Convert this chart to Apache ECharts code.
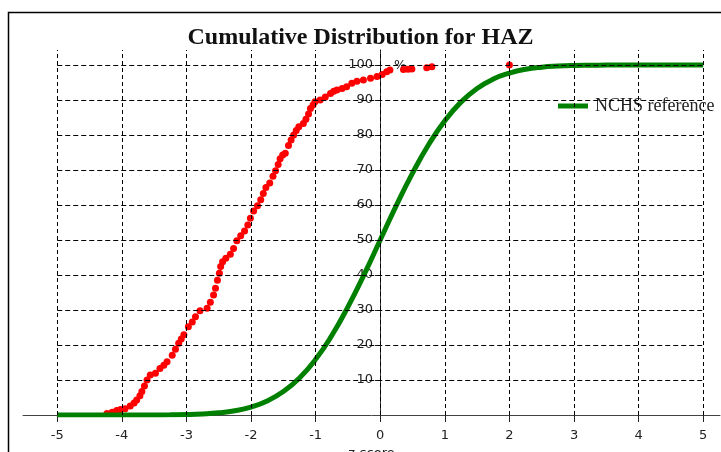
<!DOCTYPE html>
<html>
<head>
<meta charset="utf-8">
<script src="https://cdn.jsdelivr.net/npm/echarts@6/dist/echarts.min.js"></script>
<style>html,body{margin:0;padding:0;background:#fff;}#c{width:721px;height:452px;}</style>
</head>
<body>
<div id="c"></div>
<script>
// Tick labels
var xTicks = [-5, -4, -3, -2, -1, 0, 1, 2, 3, 4, 5];
var yTicks = [10, 20, 30, 40, 50, 60, 70, 80, 90, 100];

// NCHS reference curve (z-score, cumulative %)
var refZ = [-5, -4.75, -4.5, -4.25, -4, -3.75, -3.5, -3.25, -3, -2.75, -2.5, -2.25, -2, -1.75, -1.5, -1.25, -1, -0.75, -0.5, -0.25, 0, 0.25, 0.5, 0.75, 1, 1.25, 1.5, 1.75, 2, 2.25, 2.5, 2.75, 3, 3.25, 3.5, 3.75, 4, 4.25, 4.5, 4.75, 5];
var refPct = [0, 0, 0, 0, 0, 0, 0.02, 0.06, 0.13, 0.3, 0.62, 1.22, 2.28, 4.0, 6.7, 10.6, 15.9, 22.7, 30.9, 40.1, 50, 59.9, 69.1, 77.3, 84.1, 89.4, 93.3, 96.0, 97.7, 98.8, 99.4, 99.7, 99.87, 99.94, 99.98, 99.99, 100, 100, 100, 100, 100];

// Observed sample (z-score, cumulative %)
var obsZ = [-4.23, -4.15, -4.08, -4.02, -3.95, -3.87, -3.81, -3.77, -3.72, -3.69, -3.65, -3.61, -3.56, -3.48, -3.41, -3.35, -3.30, -3.22, -3.17, -3.12, -3.08, -3.04, -2.97, -2.91, -2.86, -2.79, -2.68, -2.63, -2.58, -2.55, -2.52, -2.49, -2.47, -2.44, -2.39, -2.32, -2.27, -2.22, -2.16, -2.10, -2.05, -2.01, -1.96, -1.90, -1.85, -1.81, -1.77, -1.71, -1.66, -1.62, -1.58, -1.55, -1.51, -1.47, -1.42, -1.38, -1.34, -1.30, -1.26, -1.19, -1.15, -1.11, -1.08, -1.04, -1.01, -0.93, -0.85, -0.77, -0.72, -0.67, -0.59, -0.52, -0.44, -0.36, -0.26, -0.15, -0.05, 0.03, 0.10, 0.15, 0.36, 0.43, 0.49, 0.72, 0.80, 2.0];
var obsPct = [0.4, 0.8, 1.3, 1.6, 1.8, 2.6, 3.4, 4.3, 5.5, 6.7, 8.3, 10.0, 11.4, 11.9, 13.3, 14.2, 15.2, 17.1, 18.8, 20.5, 21.7, 22.9, 25.2, 26.6, 28.1, 29.8, 30.5, 32.2, 34.3, 36.2, 38.5, 40.5, 42.4, 43.8, 44.8, 45.9, 47.6, 49.8, 51.2, 52.6, 54.3, 56.2, 58.3, 59.8, 61.5, 63.3, 65.0, 66.3, 68.2, 69.8, 71.6, 73.2, 74.3, 74.8, 77.0, 78.6, 80.0, 81.3, 82.4, 83.3, 84.5, 86.0, 87.6, 88.6, 89.5, 90.0, 90.9, 91.9, 92.5, 92.9, 93.3, 93.8, 94.8, 95.4, 95.7, 96.2, 96.7, 97.3, 98.1, 98.6, 98.7, 98.8, 98.9, 99.2, 99.5, 100];

var X_MIN = -5.53, X_MAX = 5.26, Y_MAX = 104.3;
var GRID_LEFT = 23, GRID_RIGHT = 1;
var GRID_W = 721 - GRID_LEFT - GRID_RIGHT;
// shift the y axis so it sits at z = 0
var yAxisOffset = -Math.round((0 - X_MIN) / (X_MAX - X_MIN) * GRID_W);

var refData = refZ.map(function (z, i) { return [z, refPct[i]]; });
var obsData = obsZ.map(function (z, i) { return [z, obsPct[i]]; });

var gridLines = [];
xTicks.forEach(function (x) {
  gridLines.push([{ coord: [x, 0], lineStyle: { type: [4, 3] } }, { coord: [x, Y_MAX] }]);
});
yTicks.forEach(function (y) {
  gridLines.push([{ coord: [xTicks[0], y], lineStyle: { type: [5, 3] } }, { coord: [xTicks[xTicks.length - 1], y] }]);
});

var chart = echarts.init(document.getElementById('c'), null, { renderer: 'canvas' });
chart.setOption({
  animation: false,
  backgroundColor: '#ffffff',
  title: {
    text: 'Cumulative Distribution for HAZ',
    left: 'center',
    top: 21,
    textStyle: { fontFamily: 'Liberation Serif', fontWeight: 'bold', fontSize: 24, color: '#111' }
  },
  legend: {
    data: ['NCHS reference'],
    left: 553,
    top: 92,
    icon: 'rect',
    itemWidth: 30,
    itemHeight: 5,
    itemGap: 4,
    textStyle: { fontFamily: 'Liberation Serif', fontSize: 18, color: '#222', backgroundColor: '#fff', padding: [0, 0, 0, 2] }
  },
  graphic: [{
    type: 'rect', left: 6, top: 10, shape: { width: 760, height: 500 },
    style: { fill: 'none', stroke: '#000', lineWidth: 1.5 }, silent: true
  }],
  grid: { left: GRID_LEFT, right: GRID_RIGHT, top: 50, bottom: 37, containLabel: false, outerBoundsMode: 'none' },
  xAxis: {
    type: 'value', min: X_MIN, max: X_MAX,
    name: 'z-score', nameLocation: 'middle', nameGap: 32,
    nameTextStyle: { fontFamily: 'DejaVu Sans', fontSize: 13, color: '#222' },
    axisLine: { show: true, onZero: false, lineStyle: { color: '#444', width: 1 } },
    axisTick: { show: true, customValues: xTicks, length: 7, lineStyle: { color: '#222' } },
    axisLabel: { customValues: xTicks, fontFamily: 'DejaVu Sans', fontSize: 13, color: '#222', margin: 14 },
    splitLine: { show: false }
  },
  yAxis: {
    type: 'value', min: 0, max: Y_MAX, position: 'left', offset: yAxisOffset,
    name: '%', nameLocation: 'end', nameGap: -22,
    nameTextStyle: { fontFamily: 'DejaVu Sans', fontSize: 13, color: '#222', align: 'left', padding: [0, 0, 0, 14] },
    axisLine: { show: true, onZero: false, lineStyle: { color: '#333', width: 1 } },
    axisTick: { show: true, customValues: yTicks, length: 5, lineStyle: { color: '#222' } },
    axisLabel: { customValues: yTicks, fontFamily: 'DejaVu Sans', fontSize: 13, color: '#222', margin: 7 },
    splitLine: { show: false }
  },
  series: [
    {
      name: 'grid', type: 'line', data: [], z: 1, silent: true,
      markLine: {
        silent: true, symbol: ['none', 'none'], label: { show: false },
        lineStyle: { color: '#000', width: 1, type: [5, 3] },
        emphasis: { disabled: true },
        data: gridLines
      }
    },
    {
      name: 'Sample', type: 'scatter', data: obsData, z: 3,
      symbol: 'circle', symbolSize: 7,
      itemStyle: { color: '#ff0000', opacity: 1 }
    },
    {
      name: 'NCHS reference', type: 'line', data: refData, z: 4,
      smooth: true, showSymbol: false, symbol: 'none',
      lineStyle: { color: '#008000', width: 5 },
      itemStyle: { color: '#008000' }
    }
  ]
});
</script>
</body>
</html>
